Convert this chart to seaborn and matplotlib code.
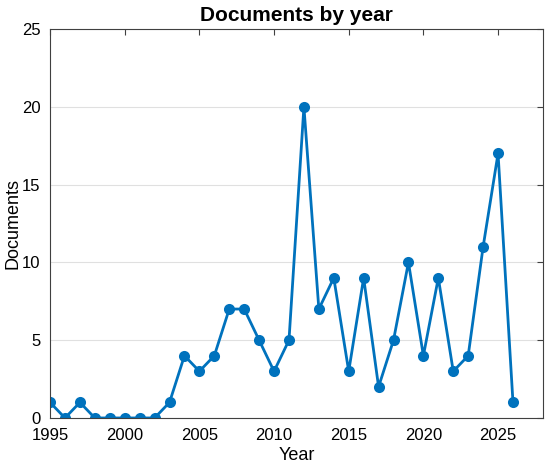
import pandas as pd
import seaborn as sns
import matplotlib.pyplot as plt

years = list(range(1995, 2027))
documents = [1, 0, 1, 0, 0, 0, 0, 0, 1, 4, 3, 4, 7, 7, 5, 3, 5, 20, 7, 9,
             3, 9, 2, 5, 10, 4, 9, 3, 4, 11, 17, 1]

df = pd.DataFrame({"Year": years, "Documents": documents})

sns.set_style("white")
plt.rcParams['font.family'] = ['Liberation Sans', 'DejaVu Sans']
plt.rcParams['text.color'] = 'black'
plt.rcParams['axes.labelcolor'] = 'black'

fig = plt.figure(figsize=(5.5, 4.67), dpi=100)
ax = fig.add_axes([0.091, 0.105, 0.896, 0.833])

sns.lineplot(data=df, x="Year", y="Documents", color="#0072BD", linewidth=2,
             marker="o", markersize=8, markeredgewidth=0, ax=ax)

ax.set_xlim(1995, 2028)
ax.set_ylim(0, 25)
ax.set_xticks([1995, 2000, 2005, 2010, 2015, 2020, 2025])
ax.set_yticks([0, 5, 10, 15, 20, 25])
ax.yaxis.grid(True, color="#e0e0e0", linewidth=0.8)
ax.set_axisbelow(True)
ax.tick_params(direction="in", top=True, right=True, length=4, width=0.8,
               colors="#404040", labelcolor="black", labelsize=12, pad=7)
for s in ax.spines.values():
    s.set_color("#404040")
    s.set_linewidth(0.8)

ax.set_title("Documents by year", fontsize=15, fontweight="bold", color="black", pad=6)
ax.set_xlabel("Year", fontsize=13, labelpad=3)
ax.set_ylabel("Documents", fontsize=13, labelpad=0)

fig.savefig("out.png", dpi=100)
